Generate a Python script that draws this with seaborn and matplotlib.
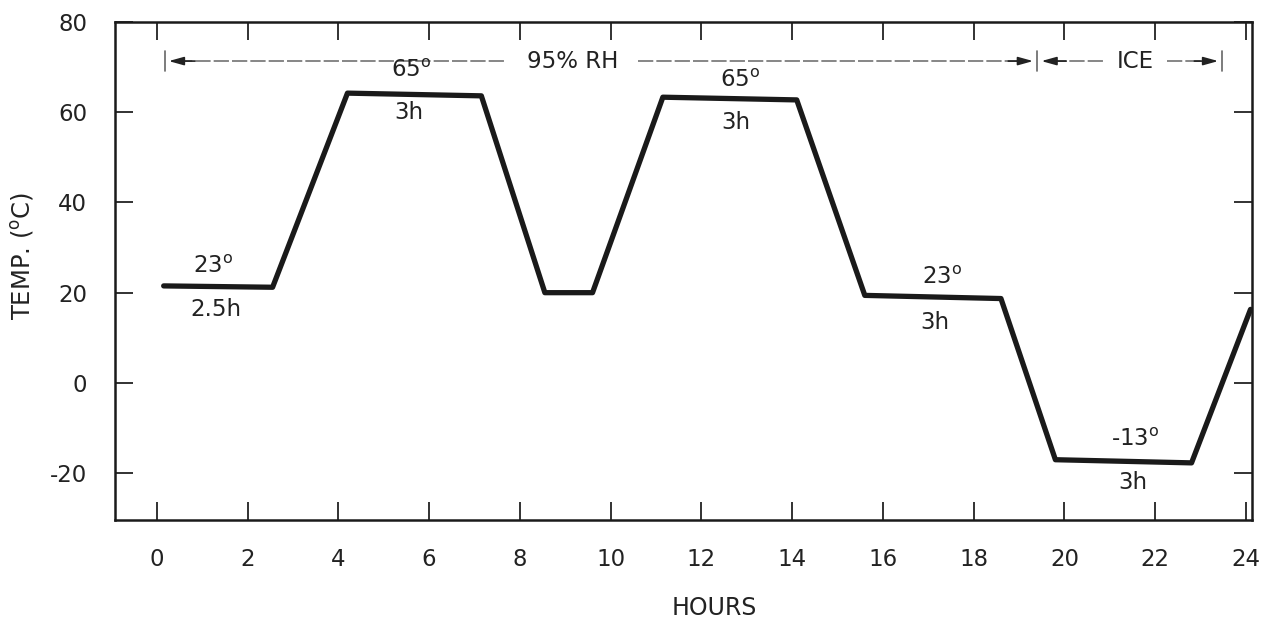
import numpy as np
import pandas as pd
import matplotlib
matplotlib.use("Agg")
import matplotlib.pyplot as plt
import seaborn as sns

# profil de temperature
hours = [0.15, 2.55, 4.2, 7.15, 8.55, 9.6, 11.15, 14.1, 15.6, 18.6, 19.8, 22.8, 24.1]
temp = [21.5, 21.2, 64.2, 63.6, 20.0, 20.0, 63.3, 62.7, 19.4, 18.7, -17.0, -17.7, 16.3]

x_ticks = list(range(0, 25, 2))
y_ticks = [-20, 0, 20, 40, 60, 80]

df = pd.DataFrame({"HOURS": hours, "TEMP": temp})

sns.set_style("ticks")
plt.rcParams["font.family"] = ["DejaVu Sans"]
plt.rcParams["axes.unicode_minus"] = False

fig = plt.figure(figsize=(12.65, 6.23), dpi=100)
ax = fig.add_axes([0.091, 0.165, 0.899, 0.80])

sns.lineplot(data=df, x="HOURS", y="TEMP", estimator=None, sort=False,
             color="#1a1a1a", linewidth=3.8, ax=ax)

ax.set_xlim(-0.92, 24.14)
ax.set_ylim(-30.4, 80)
ax.set_xticks(x_ticks)
ax.set_yticks(y_ticks)
ax.tick_params(direction="in", length=13, width=1.3, top=True, right=True,
               labelsize=16.5, colors="#222222")
ax.tick_params(axis="x", pad=20)
ax.tick_params(axis="y", pad=20)
for s in ax.spines.values():
    s.set_linewidth(1.8)
    s.set_color("#1a1a1a")

ax.set_xlabel("HOURS", fontsize=17, color="#222222", labelpad=18, x=0.527)
ax.set_ylabel("TEMP. ($^{\\rm o}$C)", fontsize=17.5, color="#222222", labelpad=10, y=0.53)

# bandeau 95% RH / ICE
ya = 71.3
gc = "#666666"
dash = dict(color=gc, linewidth=1.1, linestyle=(0, (10, 2)))
ax.plot([0.45, 7.7], [ya, ya], **dash)
ax.plot([10.6, 19.1], [ya, ya], **dash)
ax.plot([19.7, 20.9], [ya, ya], **dash)
ax.plot([22.25, 23.2], [ya, ya], **dash)
for xb in [0.18, 19.4, 23.48]:
    ax.plot([xb, xb], [ya - 2.2, ya + 2.2], color=gc, linewidth=1.2)
head = dict(arrowstyle="-|>,head_length=0.9,head_width=0.25", color="#222222", lw=1.2)
ax.annotate("", xy=(0.2, ya), xytext=(0.9, ya), arrowprops=head)
ax.annotate("", xy=(19.37, ya), xytext=(18.7, ya), arrowprops=head)
ax.annotate("", xy=(19.43, ya), xytext=(20.1, ya), arrowprops=head)
ax.annotate("", xy=(23.45, ya), xytext=(22.8, ya), arrowprops=head)
ax.text(9.16, ya, "95% RH", fontsize=16.5, ha="center", va="center", color="#222222")
ax.text(21.55, ya, "ICE", fontsize=16.5, ha="center", va="center", color="#222222")

# etiquettes des paliers
lab = dict(fontsize=16.5, ha="center", va="center", color="#222222")
deg = "$^{\\rm o}$"
ax.text(1.25, 25.8, "23" + deg, **lab)
ax.text(1.3, 16.3, "2.5h", **lab)
ax.text(5.6, 69.3, "65" + deg, **lab)
ax.text(5.55, 60.0, "3h", **lab)
ax.text(12.85, 67.0, "65" + deg, **lab)
ax.text(12.75, 57.8, "3h", **lab)
ax.text(17.3, 23.4, "23" + deg, **lab)
ax.text(17.15, 13.5, "3h", **lab)
ax.text(21.55, -12.5, "-13" + deg, **lab)
ax.text(21.5, -22.0, "3h", **lab)

fig.savefig("out.png", dpi=100)
